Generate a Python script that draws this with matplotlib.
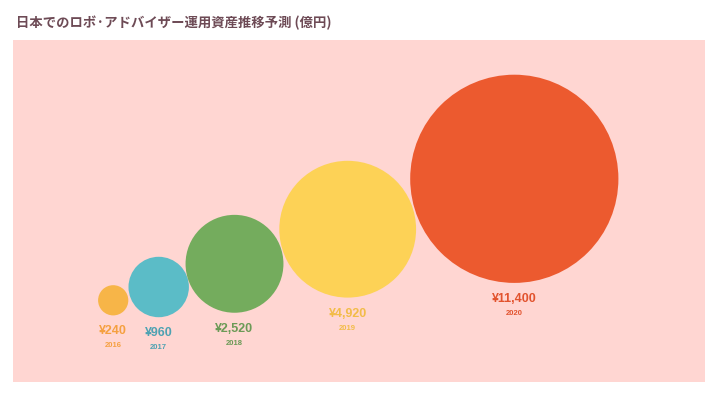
import numpy as np
import matplotlib.pyplot as plt
from matplotlib.patches import Circle

plt.rcParams['font.family'] = ['Noto Sans CJK JP', 'DejaVu Sans']

years = ['2016', '2017', '2018', '2019', '2020']
values = [240, 960, 2520, 4920, 11400]
labels = ['¥240', '¥960', '¥2,520', '¥4,920', '¥11,400']

fills = ['#f7b548', '#5bbcc7', '#74ac5d', '#fdd256', '#ec5a2f']
text_cols = ['#f5a040', '#4ea2b2', '#6b9a56', '#f2bc48', '#e2532e']

# layout (pixels inside the pink panel)
cx = [100.2, 145.7, 221.5, 334.7, 501.3]
cy = [260.3, 247.0, 223.8, 189.2, 138.8]
scale = 0.975

fig = plt.figure(figsize=(7.2, 3.97), dpi=100)
fig.patch.set_facecolor('white')
W, H = 692, 342
ax = fig.add_axes([13 / 720, (397 - 382) / 397, W / 720, H / 397])
ax.set_facecolor('#ffd6d2')
ax.set_xlim(0, W)
ax.set_ylim(H, 0)
ax.set_aspect('equal')
ax.set_xticks([])
ax.set_yticks([])
for s in ax.spines.values():
    s.set_visible(False)

num_font = ['Liberation Sans', 'DejaVu Sans']
for i in range(len(values)):
    r = scale * np.sqrt(values[i])
    ax.add_patch(Circle((cx[i], cy[i]), r, facecolor=fills[i], edgecolor='none'))
    bottom = cy[i] + r
    ax.text(cx[i], bottom + 16, labels[i], ha='center', va='center',
            fontsize=9, fontweight='bold', color=text_cols[i], family=num_font)
    ax.text(cx[i], bottom + 30.5, years[i], ha='center', va='center',
            fontsize=5.5, fontweight='bold', color=text_cols[i], family=num_font)

fig.text(16 / 720, 1 - 23 / 397, '日本でのロボ·アドバイザー運用資産推移予測 (億円)',
         ha='left', va='center', fontsize=9.6, fontweight='bold', color='#6d4a55')

fig.savefig('out.png', dpi=100, facecolor='white')
